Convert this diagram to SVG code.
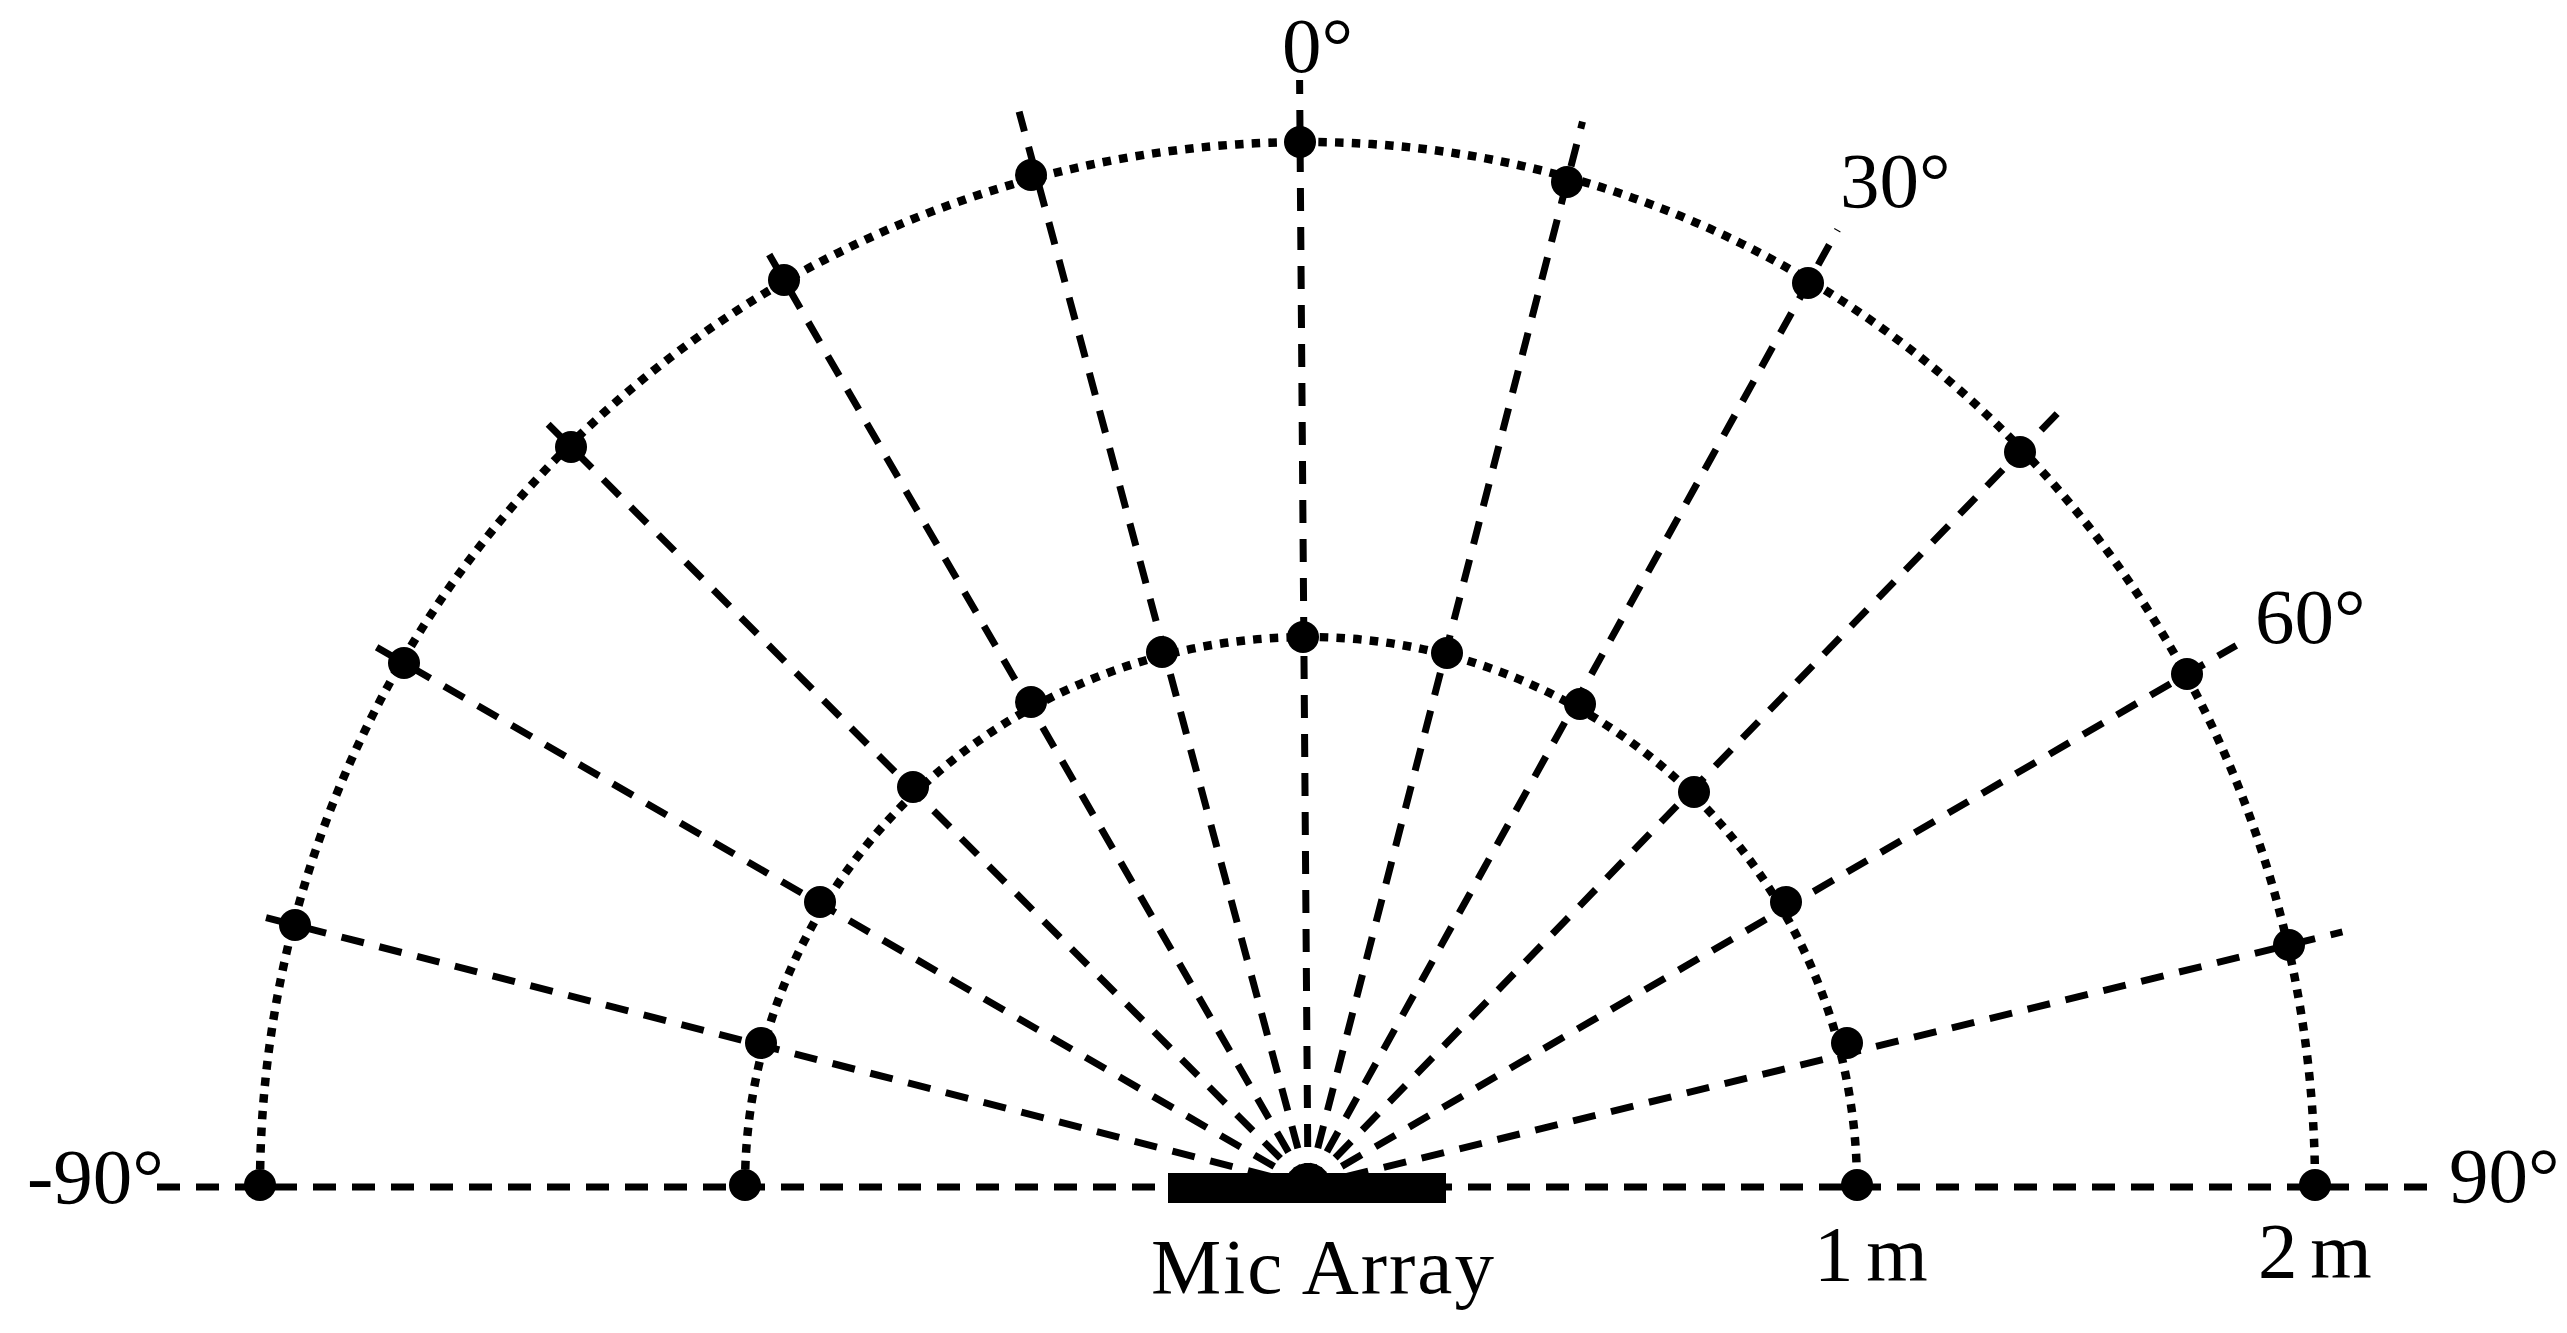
<svg xmlns="http://www.w3.org/2000/svg" width="2567" height="1333" viewBox="0 0 2567 1333">
<style>
.ray{stroke:#000;stroke-width:7;stroke-dasharray:23 16;fill:none}
.arc{stroke:#000;stroke-width:8.5;stroke-dasharray:8.5 8.2;fill:none}
.dot{fill:#000}
.lbl{font-family:"Liberation Serif","Times New Roman",serif;font-size:79px;fill:#000}
</style>
<rect width="2567" height="1333" fill="#fff"/>
<g id="connectors">
<line class="ray" x1="157" y1="1187" x2="1308" y2="1187"/>
<line class="ray" x1="2427" y1="1187" x2="1308" y2="1187"/>
<line class="ray" x1="1308" y1="1186" x2="251.4" y2="913.8"/>
<line class="ray" x1="1308" y1="1186" x2="365.1" y2="640.5"/>
<line class="ray" x1="1308" y1="1186" x2="539.2" y2="415.2"/>
<line class="ray" x1="1308" y1="1186" x2="761.4" y2="241.1"/>
<line class="ray" x1="1308" y1="1186" x2="1019.1" y2="111.6"/>
<line class="ray" x1="1308" y1="1186" x2="1299.6" y2="80"/>
<line class="ray" x1="1308" y1="1186" x2="1582.5" y2="121.7"/>
<line class="ray" x1="1308" y1="1186" x2="1837.6" y2="229.7"/>
<line class="ray" x1="1308" y1="1186" x2="2058.3" y2="412.5"/>
<line class="ray" x1="1308" y1="1186" x2="2236.3" y2="645.4"/>
<line class="ray" x1="1308" y1="1186" x2="2342.4" y2="931.9"/>
</g>
<g id="arcs">
<path class="arc" d="M 260 1186 A 1048 1044 0 0 1 1308 142 A 1007 1044 0 0 1 2315 1186"/>
<path class="arc" d="M 745 1186 A 563 549 0 0 1 1308 637 A 549 549 0 0 1 1857 1186"/>
</g>
<g id="mic-array"><rect x="1168" y="1173" width="278" height="30" fill="#000"/></g>
<g id="outer-m90"><circle class="dot" cx="260" cy="1185" r="16"/></g>
<g id="outer-m75"><circle class="dot" cx="295" cy="925" r="16"/></g>
<g id="outer-m60"><circle class="dot" cx="404" cy="663" r="16"/></g>
<g id="outer-m45"><circle class="dot" cx="571" cy="447" r="16"/></g>
<g id="outer-m30"><circle class="dot" cx="784" cy="280" r="16"/></g>
<g id="outer-m15"><circle class="dot" cx="1031" cy="175" r="16"/></g>
<g id="outer-0"><circle class="dot" cx="1300" cy="142" r="16"/></g>
<g id="outer-15"><circle class="dot" cx="1567" cy="182" r="16"/></g>
<g id="outer-30"><circle class="dot" cx="1808" cy="283" r="16"/></g>
<g id="outer-45"><circle class="dot" cx="2020" cy="452" r="16"/></g>
<g id="outer-60"><circle class="dot" cx="2187" cy="674" r="16"/></g>
<g id="outer-75"><circle class="dot" cx="2289" cy="945" r="16"/></g>
<g id="outer-90"><circle class="dot" cx="2315" cy="1185" r="16"/></g>
<g id="inner-m90"><circle class="dot" cx="745" cy="1185" r="16"/></g>
<g id="inner-m75"><circle class="dot" cx="761" cy="1043" r="16"/></g>
<g id="inner-m60"><circle class="dot" cx="820" cy="902" r="16"/></g>
<g id="inner-m45"><circle class="dot" cx="913" cy="787" r="16"/></g>
<g id="inner-m30"><circle class="dot" cx="1031" cy="702" r="16"/></g>
<g id="inner-m15"><circle class="dot" cx="1162" cy="652" r="16"/></g>
<g id="inner-0"><circle class="dot" cx="1303" cy="637" r="16"/></g>
<g id="inner-15"><circle class="dot" cx="1447" cy="653" r="16"/></g>
<g id="inner-30"><circle class="dot" cx="1580" cy="704" r="16"/></g>
<g id="inner-45"><circle class="dot" cx="1694" cy="792" r="16"/></g>
<g id="inner-60"><circle class="dot" cx="1786" cy="902" r="16"/></g>
<g id="inner-75"><circle class="dot" cx="1847" cy="1043" r="16"/></g>
<g id="inner-90"><circle class="dot" cx="1857" cy="1185" r="16"/></g>
<g id="labels">
<text class="lbl" x="1282" y="72">0°</text>
<text class="lbl" x="1840" y="207">30°</text>
<text class="lbl" x="2255" y="643">60°</text>
<text class="lbl" x="27" y="1203">-90°</text>
<text class="lbl" x="2449" y="1202">90°</text>
<text class="lbl" x="1151" y="1293" letter-spacing="2">Mic Array</text>
<text class="lbl" x="1814" y="1280" word-spacing="-7">1 m</text>
<text class="lbl" x="2258" y="1277" word-spacing="-7">2 m</text>
</g>
</svg>
